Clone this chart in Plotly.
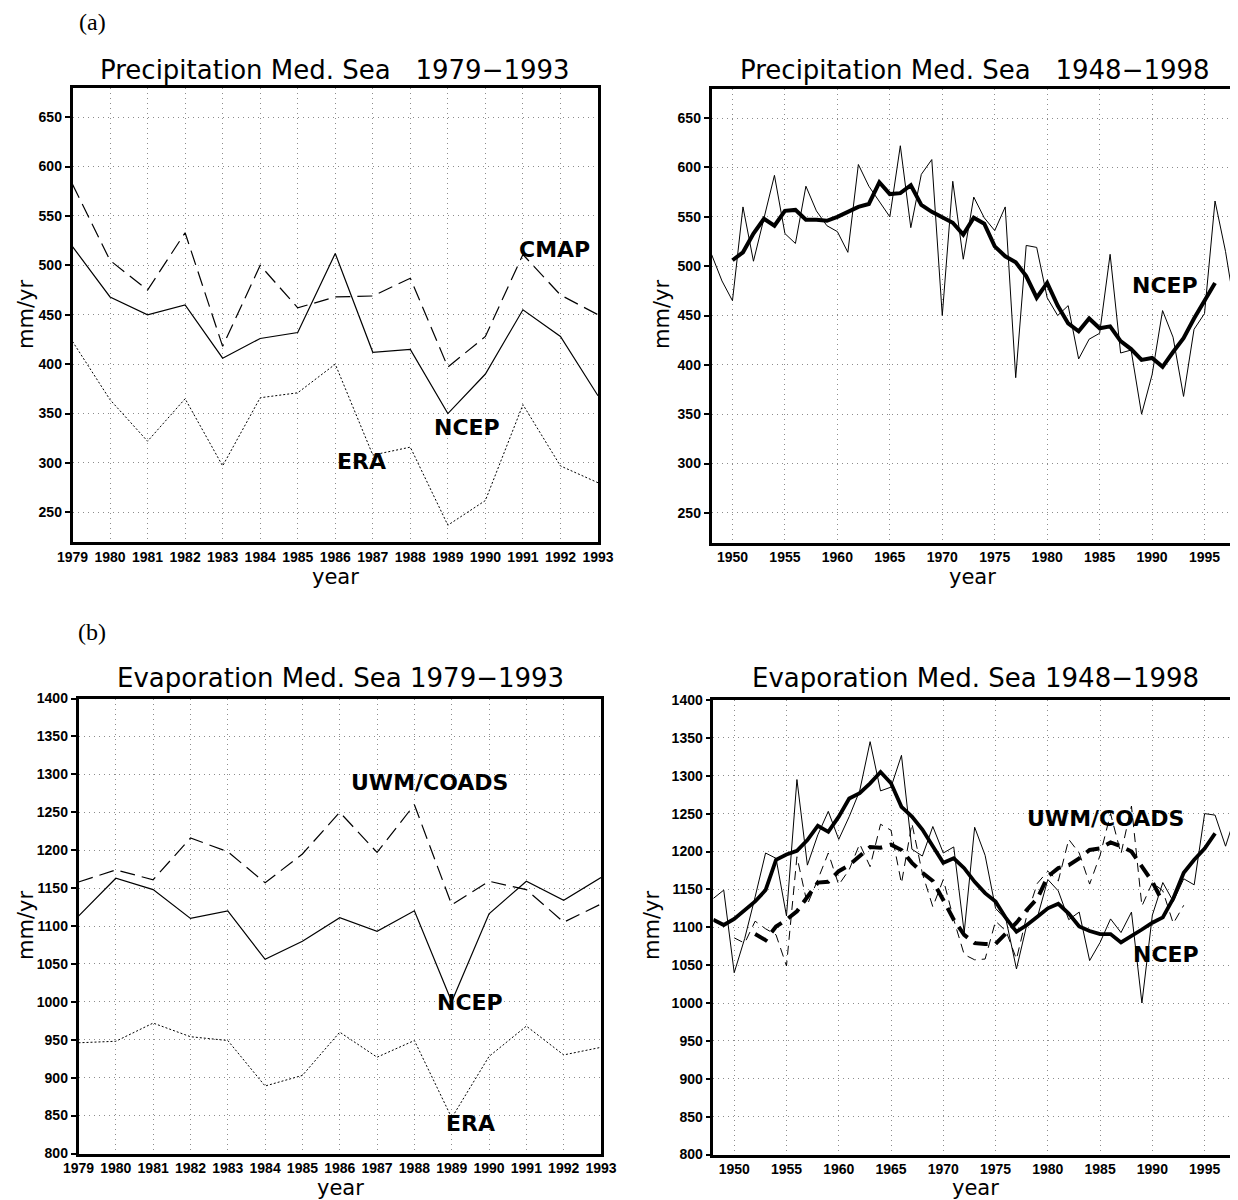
import plotly.graph_objects as go

# page body has an 8px margin: the figure is sized so it ends at the window edge
OFF = 8
W, H = 1238 - OFF, 1200 - OFF

# ---------------- data ----------------
years_short = list(range(1979, 1994))
years_long = list(range(1948, 1999))

# (a) precipitation 1979-1993
pre_ncep = [519, 468, 450, 460, 406, 426, 432, 512, 412, 415, 350, 390, 455, 428, 368]
pre_cmap = [582, 505, 475, 533, 418, 500, 457, 468, 469, 487, 397, 428, 511, 470, 450]
pre_era = [423, 364, 322, 365, 297, 366, 371, 400, 308, 316, 237, 262, 359, 297, 280]

# (a) precipitation 1948-1998 NCEP (annual) and smoothed 1950-1996
pre_ncep_long = [512, 485, 465, 560, 505, 550, 592, 533, 523, 581,
                 556, 541, 535, 514, 603, 581, 565, 550, 622, 539,
                 593, 608, 450, 586, 507, 570, 549, 536, 560, 387,
                 521, 519, 468, 450, 460, 406, 426, 432, 512, 412,
                 415, 350, 390, 455, 428, 368, 436, 452, 566, 515, 450]
years_pre_smooth = list(range(1950, 1997))
pre_ncep_smooth = [506, 514, 533, 548, 541, 556, 557, 547, 547, 546,
                   550, 555, 560, 563, 585, 573, 574, 582, 562, 555,
                   549, 544, 532, 549, 543, 520, 510, 504, 490, 468,
                   483, 460, 442, 434, 447, 437, 439, 424, 416, 405,
                   407, 398, 413, 427, 447, 465, 483]

# (b) evaporation 1979-1993
eva_uwm = [1158, 1174, 1161, 1216, 1198, 1157, 1195, 1250, 1197, 1260, 1128, 1159, 1148, 1105, 1129]
eva_ncep = [1113, 1163, 1148, 1110, 1120, 1056, 1080, 1111, 1093, 1120, 1000, 1116, 1159, 1134, 1164]
eva_era = [946, 948, 972, 954, 949, 889, 903, 960, 927, 949, 847, 928, 968, 930, 940]

# (b) evaporation long records
eva_ncep_long = [1138, 1149, 1040, 1085, 1140, 1198, 1191, 1115, 1295, 1182,
                 1222, 1253, 1216, 1246, 1280, 1345, 1280, 1285, 1327, 1203,
                 1194, 1233, 1198, 1206, 1093, 1232, 1195, 1125, 1110, 1045,
                 1104, 1113, 1163, 1148, 1110, 1120, 1056, 1080, 1111, 1093,
                 1120, 1000, 1116, 1159, 1134, 1164, 1156, 1250, 1248, 1207, 1250]
years_uwm_long = list(range(1950, 1994))
eva_uwm_long = [1086, 1079, 1108, 1098, 1090, 1049, 1193, 1130, 1163, 1198,
                1156, 1176, 1210, 1180, 1236, 1228, 1158, 1237, 1171, 1127,
                1163, 1110, 1064, 1057, 1058, 1108, 1095, 1058, 1116,
                1158, 1174, 1161, 1216, 1198, 1157, 1195, 1250, 1197, 1260,
                1128, 1159, 1148, 1105, 1129]
years_eva_ncep_smooth = list(range(1948, 1997))
eva_ncep_smooth = [1110, 1103, 1111, 1123, 1134, 1149, 1189, 1196, 1201, 1215,
                   1234, 1226, 1246, 1270, 1277, 1290, 1305, 1290, 1259, 1246,
                   1229, 1207, 1185, 1191, 1178, 1160, 1145, 1134, 1112, 1094,
                   1103, 1114, 1125, 1131, 1118, 1101, 1095, 1091, 1091, 1080,
                   1088, 1097, 1106, 1113, 1138, 1172, 1189, 1204, 1224]
years_uwm_smooth = list(range(1952, 1992))
eva_uwm_smooth = [1091, 1083, 1101, 1110, 1121, 1139, 1159, 1160, 1174, 1182,
                  1194, 1206, 1205, 1209, 1202, 1185, 1172, 1161, 1136, 1110,
                  1090, 1079, 1078, 1078, 1092, 1106, 1123, 1138, 1167, 1178,
                  1182, 1191, 1202, 1204, 1212, 1207, 1200, 1180, 1160, 1133]

# ---------------- figure ----------------
def px(x):
    return (x - OFF) / W

def py(y):
    return 1 - (y - OFF) / H

fig = go.Figure()

def add(x, y, ax, width=1.2, dash="solid"):
    fig.add_trace(go.Scatter(x=x, y=y, mode="lines", xaxis="x" + ax, yaxis="y" + ax,
                             line=dict(color="black", width=width, dash=dash),
                             showlegend=False, hoverinfo="skip"))

DASH_LONG = "15px,7px"
DASH_THIN = "9px,6px"
DASH_THICK = "14px,8px"
DOT = "2px,2px"

# panel 1
add(years_short, pre_cmap, "", 1.2, DASH_LONG)
add(years_short, pre_ncep, "", 1.2)
add(years_short, pre_era, "", 1.0, DOT)
# panel 2
add(years_long, pre_ncep_long, "2", 1.0)
add(years_pre_smooth, pre_ncep_smooth, "2", 4.0)
# panel 3
add(years_short, eva_uwm, "3", 1.2, DASH_LONG)
add(years_short, eva_ncep, "3", 1.2)
add(years_short, eva_era, "3", 1.0, DOT)
# panel 4
add(years_uwm_long, eva_uwm_long, "4", 1.0, DASH_THIN)
add(years_long, eva_ncep_long, "4", 1.0)
add(years_eva_ncep_smooth, eva_ncep_smooth, "4", 3.8)
add(years_uwm_smooth, eva_uwm_smooth, "4", 4.0, DASH_THICK)

tickfont = dict(family="Liberation Sans, Arial, sans-serif", size=14, color="black", weight="bold")
common = dict(showline=True, linecolor="black", linewidth=2.5, mirror=True,
              showgrid=True, gridcolor="#8c8c8c", griddash="1px,4px", gridwidth=1,
              zeroline=False, tickfont=tickfont, automargin=False)

def xax(domain, rng, dtick, tick0, anchor):
    return dict(common, domain=domain, range=rng, dtick=dtick, tick0=tick0,
                ticks="", anchor=anchor, tickformat="d")

def yax(domain, rng, dtick, tick0, anchor):
    return dict(common, domain=domain, range=rng, dtick=dtick, tick0=tick0,
                ticks="outside", ticklen=5, tickwidth=1.5, tickcolor="black", anchor=anchor)

layout = dict(
    width=W, height=H, margin=dict(l=0, r=0, t=0, b=0, pad=0, autoexpand=False),
    paper_bgcolor="white", plot_bgcolor="white",
    xaxis=xax([px(72.5), px(598)], [1979, 1993], 1, 1979, "y"),
    yaxis=yax([py(542), py(87.5)], [220, 680], 50, 250, "x"),
    xaxis2=xax([px(711.5), px(1236)], [1948, 1998], 5, 1950, "y2"),
    yaxis2=yax([py(542.5), py(88.5)], [220, 680], 50, 250, "x2"),
    xaxis3=xax([px(78.5), px(601)], [1979, 1993], 1, 1979, "y3"),
    yaxis3=yax([py(1153.5), py(698.5)], [800, 1400], 50, 800, "x3"),
    xaxis4=xax([px(713.3), px(1236)], [1948, 1998], 5, 1950, "y4"),
    yaxis4=yax([py(1154.5), py(700)], [800, 1400], 50, 800, "x4"),
)
fig.update_layout(**layout)

ann = []
title_font = dict(family="DejaVu Sans, sans-serif", size=26, color="black")
label_font = dict(family="DejaVu Sans, sans-serif", size=21, color="black")
big_font = dict(family="DejaVu Sans, sans-serif", size=22, color="black", weight="bold")
serif_font = dict(family="Liberation Serif, DejaVu Serif, serif", size=24, color="black")
NB = "\u00a0"

def pann(text, x, y, font, angle=0):
    ann.append(dict(text=text, x=px(x), y=py(y), xref="paper", yref="paper",
                    showarrow=False, font=font, textangle=angle,
                    xanchor="center", yanchor="middle"))

pann("(a)", 92, 22, serif_font)
pann("(b)", 92, 632, serif_font)
pann("Precipitation Med. Sea" + NB * 3 + "1979\u22121993", 335, 70, title_font)
pann("Precipitation Med. Sea" + NB * 3 + "1948\u22121998", 975, 70, title_font)
pann("Evaporation Med. Sea 1979\u22121993", 340, 678, title_font)
pann("Evaporation Med. Sea 1948\u22121998", 975, 678, title_font)
pann("year", 335, 577, label_font)
pann("year", 972, 577, label_font)
pann("year", 340, 1188, label_font)
pann("year", 975, 1188, label_font)
pann("mm/yr", 26, 315, label_font, -90)
pann("mm/yr", 662, 315, label_font, -90)
pann("mm/yr", 26, 926, label_font, -90)
pann("mm/yr", 652, 926, label_font, -90)

def dann(text, x, y, ax):
    ann.append(dict(text=text, x=x, y=y, xref="x" + ax, yref="y" + ax, showarrow=False,
                    font=big_font, xanchor="center", yanchor="middle"))

dann("CMAP", 1991.85, 516, "")
dann("NCEP", 1989.5, 336, "")
dann("ERA", 1986.7, 301, "")
dann("NCEP", 1991.25, 480, "2")
dann("UWM/COADS", 1988.4, 1289, "3")
dann("NCEP", 1989.5, 999, "3")
dann("ERA", 1989.5, 840, "3")
dann("UWM/COADS", 1985.5, 1244, "4")
dann("NCEP", 1991.3, 1064, "4")

fig.update_layout(annotations=ann)
fig.write_html("out.html")
